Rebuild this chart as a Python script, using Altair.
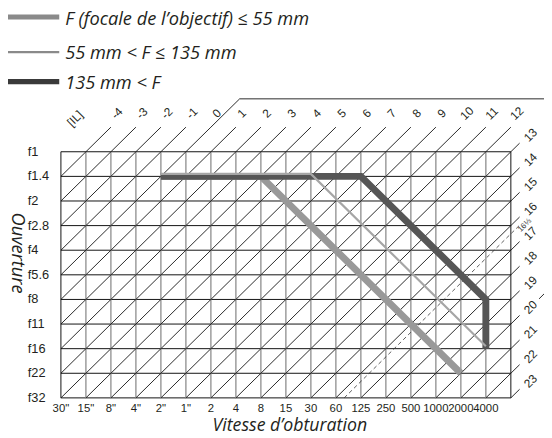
import altair as alt
import pandas as pd

# ---------------- data ----------------
shutter_labels = ['30"', '15"', '8"', '4"', '2"', '1"', '2', '4', '8', '15',
                  '30', '60', '125', '250', '500', '1000', '2000', '4000']
aperture_labels = ['f1', 'f1.4', 'f2', 'f2.8', 'f4', 'f5.6', 'f8', 'f11',
                   'f16', 'f22', 'f32']
ev_top = [-4, -3, -2, -1, 0, 1, 2, 3, 4, 5, 6, 7, 8, 9, 10, 11, 12]
ev_right = [13, 14, 15, 16, 17, 18, 19, 20, 21, 22, 23]
ev_tag = "[IL]"
flash_ev = 16 + 1 / 3
flash_text = "16⅓"

series = ["F (focale de l’objectif) ≤ 55 mm", "55 mm < F ≤ 135 mm", "135 mm < F"]
series_shutter = [['2"', '8', '2000'],
                  ['2"', '30', '4000'],
                  ['2"', '125', '4000', '4000']]
series_aperture = [['f1.4', 'f1.4', 'f22'],
                   ['f1.4', 'f1.4', 'f16'],
                   ['f1.4', 'f1.4', 'f8', 'f16']]

x_title = "Vitesse d’obturation"
y_title = "Ouverture"

# ---------------- styles / layout ----------------
series_color = ["#999999", "#a6a6a6", "#565656"]
series_width = [7, 2.2, 7]
legend_color = ["#8a8a8a", "#8a8a8a", "#3a3a3a"]
legend_width = [5, 2.3, 5.5]
TXT = "#231f20"
SANS = "Liberation Sans"
ITAL = "Open Sans"

NC = len(shutter_labels)          # 18 columns (one beyond 1/4000)
NR = len(aperture_labels) - 1     # 10 rows
COL, ROW = 25.37, 24.98
X0, Y0 = 61.7, 150.7              # page pixel of grid top-left


def cx(p):
    return (p - X0) / COL


def cy(p):
    return (p - Y0) / ROW


W, H = NC * COL, NR * ROW
pad = {"left": X0 - 8, "top": Y0 - 8,
       "right": 544 - (X0 - 8) - W, "bottom": 430 - (Y0 - 8) - H}

xs = alt.Scale(domain=[0, NC], nice=False, zero=False)
ys = alt.Scale(domain=[0, NR], nice=False, zero=False, reverse=True)


def X(f="x"):
    return alt.X(f"{f}:Q", scale=xs, axis=None)


def Y(f="y"):
    return alt.Y(f"{f}:Q", scale=ys, axis=None)


def segs(df, **mk):
    return alt.Chart(df).mark_rule(**mk).encode(
        x=X(), y=Y(), x2=alt.X2("x2:Q"), y2=alt.Y2("y2:Q"))


def texts(df, **mk):
    return alt.Chart(df).mark_text(**mk).encode(x=X(), y=Y(), text="t:N")


# ---------------- grid ----------------
h_lines = pd.DataFrame({"x": 0, "x2": NC, "y": list(range(NR + 1))})
h_lines["y2"] = h_lines["y"]
v_in = pd.DataFrame({"x": list(range(1, NC)), "y": 0, "y2": NR})
v_in["x2"] = v_in["x"]
v_edge = pd.DataFrame({"x": [0, NC], "x2": [0, NC], "y": 0, "y2": NR})

# EV diagonals: row + col = EV + 5
diag = []
for e in range(ev_top[0], ev_right[-1]):
    s = e + 5
    x0 = max(0, s - NR)
    x1 = min(NC, s)
    diag.append(dict(x=x0, y=s - x0, x2=x1, y2=s - x1))
for e in ev_top:
    s = e + 5
    diag.append(dict(x=s, y=0, x2=s + 1, y2=-1))
ext = 0.35
for e in ev_right:
    s = e + 5
    diag.append(dict(x=NC, y=s - NC, x2=NC + ext, y2=s - NC - ext))
# EV 0 line continues up to the separator line
top_sep = cy(97)
diag.append(dict(x=6, y=-1, x2=5 - top_sep, y2=top_sep))
diag.append(dict(x=5 - top_sep, y=top_sep, x2=cx(560), y2=top_sep))
# small stroke at the right edge next to "20"
diag.append(dict(x=cx(547), y=cy(300), x2=cx(553), y2=cy(294)))
diag = pd.DataFrame(diag)

fs = flash_ev + 5
flash = pd.DataFrame([dict(x=fs - NR, y=NR, x2=NC + 0.4, y2=fs - NC - 0.4)])

# ---------------- program lines ----------------
prog = []
for name, sh, ap in zip(series, series_shutter, series_aperture):
    for k, (s, a) in enumerate(zip(sh, ap)):
        prog.append(dict(series=name, k=k, x=shutter_labels.index(s),
                         y=aperture_labels.index(a)))
prog = pd.DataFrame(prog)


def prog_layer(i, **extra):
    d = prog[prog["series"] == series[i]]
    return alt.Chart(d).mark_line(color=series_color[i], strokeWidth=series_width[i],
                                  strokeCap="butt", strokeJoin="miter", **extra).encode(
        x=X(), y=Y(), order="k:Q")


# ---------------- labels ----------------
f_df = pd.DataFrame({"t": aperture_labels, "x": cx(28), "y": list(range(NR + 1))})
s_df = pd.DataFrame({"t": shutter_labels, "x": list(range(len(shutter_labels))), "y": cy(412)})
top_df = pd.DataFrame({"t": [str(e) for e in ev_top],
                       "x": [e + 6 + 0.24 for e in ev_top], "y": -1.56})
tag_df = pd.DataFrame({"t": [ev_tag], "x": [cx(76)], "y": [cy(117)]})
right_df = pd.DataFrame({"t": [str(e) for e in ev_right], "x": cx(538.3),
                         "y": [e + 5 - NC - 0.68 for e in ev_right]})
flash_df = pd.DataFrame({"t": [flash_text], "x": [cx(532.5)], "y": [cy(225.5)]})
xt_df = pd.DataFrame({"t": [x_title], "x": [cx(294)], "y": [cy(429.5)]})
yt_df = pd.DataFrame({"t": [y_title], "x": [cx(18)], "y": [cy(253.5)]})

# legend (manual, top-left)
leg_base = [22.5, 57, 87]
leg_bar = [14, 49.5, 79.5]
leg_layers = []
for i, name in enumerate(series):
    yy = cy(leg_bar[i])
    leg_layers.append(segs(pd.DataFrame([dict(x=cx(8), x2=cx(60), y=yy, y2=yy)]),
                           color=legend_color[i], strokeWidth=legend_width[i]))
leg_txt = pd.DataFrame({"t": series, "x": cx(66), "y": [cy(b) for b in leg_base]})

layers = [
    segs(h_lines, color="#111111", strokeWidth=1),
    segs(v_in, color="#8c8c8c", strokeWidth=1.3),
    segs(v_edge, color="#111111", strokeWidth=1),
    segs(diag, color="#111111", strokeWidth=0.9),
    segs(flash, color="#333333", strokeWidth=0.8, strokeDash=[4, 3]),
    prog_layer(0),
    prog_layer(2),
    prog_layer(1, yOffset=-2.5),
    texts(f_df, align="left", baseline="middle", font=SANS, fontSize=13, color=TXT),
    texts(s_df, align="center", baseline="middle", font=SANS, fontSize=11.5, color=TXT),
    texts(top_df, align="center", baseline="middle", font=SANS, fontSize=12, angle=315, color=TXT),
    texts(tag_df, align="center", baseline="middle", font=SANS, fontSize=12, angle=315, color=TXT),
    texts(right_df, align="center", baseline="middle", font=SANS, fontSize=12, angle=315, color=TXT),
    texts(flash_df, align="center", baseline="middle", font=SANS, fontSize=8, angle=315, color="#333333"),
    texts(xt_df, align="center", baseline="middle", font=ITAL, fontStyle="italic", fontSize=18, color=TXT),
    texts(yt_df, align="center", baseline="middle", font=ITAL, fontStyle="italic", fontSize=18.5, angle=90, color=TXT),
] + leg_layers + [
    texts(leg_txt, align="left", baseline="alphabetic", font=ITAL, fontStyle="italic", fontSize=18.5, color=TXT),
]

chart = alt.layer(*layers).properties(
    width=W, height=H, padding=pad,
    autosize=alt.AutoSizeParams(type="none"),
).configure_view(stroke=None)

chart.save("out.html", embed_options={"renderer": "svg", "actions": False})
